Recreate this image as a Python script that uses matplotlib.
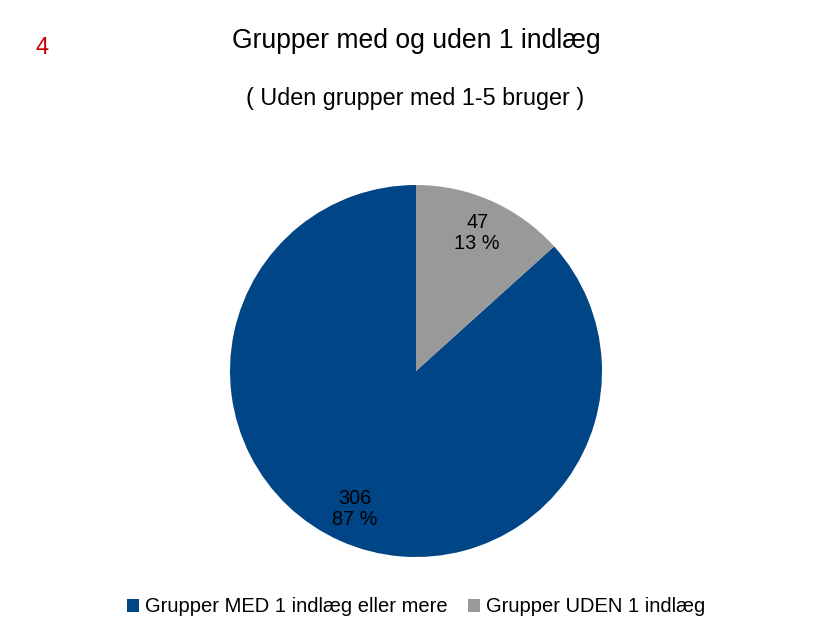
import numpy as np
import matplotlib.pyplot as plt
from matplotlib.patches import Patch

plt.rcParams['font.family'] = ['Liberation Sans', 'DejaVu Sans']

categories = ['Grupper MED 1 indlæg eller mere', 'Grupper UDEN 1 indlæg']
counts = [306, 47]
colors = ['#004586', '#999999']

W, H = 838, 626
fig = plt.figure(figsize=(W / 100, H / 100), dpi=100)

cx, cy, r = 416, 371, 186
ax = fig.add_axes([(cx - r) / W, 1 - (cy + r) / H, 2 * r / W, 2 * r / H])

total = sum(counts)


def fmt(p):
    return '{:d}\n{:.0f} %'.format(int(round(p * total / 100)), p)


wedges, texts, autotexts = ax.pie(counts, colors=colors, startangle=90, counterclock=True,
                                  autopct=fmt, pctdistance=0.81, radius=1,
                                  textprops={'fontsize': 14.3, 'color': 'black'})
for t in autotexts:
    t.set_linespacing(1.15)
ax.set_xlim(-1, 1)
ax.set_ylim(-1, 1)
ax.set_aspect('equal')
ax.axis('off')

fig.text(416 / W, 1 - 41 / H, 'Grupper med og uden 1 indlæg', ha='center', va='center', fontsize=19.1)
fig.text(415 / W, 1 - 98 / H, '( Uden grupper med 1-5 bruger )', ha='center', va='center', fontsize=16.8)
fig.text(42 / W, 1 - 48 / H, '4', ha='center', va='center', fontsize=17, color='#cc0000')

handles = [Patch(facecolor=c, edgecolor='none') for c in colors]
fig.legend(handles, categories, loc='center', bbox_to_anchor=(416 / W, 1 - 607 / H),
           ncol=2, frameon=False, fontsize=14.5, handlelength=0.6, handleheight=0.6,
           handletextpad=0.3, columnspacing=1.0)

fig.savefig('out.png', dpi=100)
